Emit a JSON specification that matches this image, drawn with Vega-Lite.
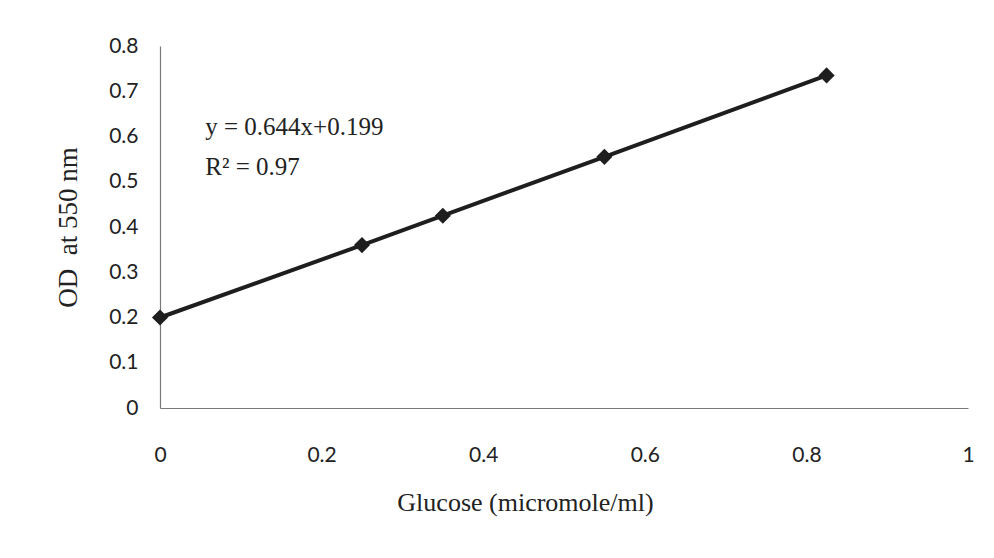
{
  "$schema": "https://vega.github.io/schema/vega-lite/v6.json",
  "autosize": {"type": "none"},
  "width": 808,
  "height": 362,
  "padding": {"left": 160, "top": 46, "right": 26, "bottom": 150},
  "background": "white",
  "config": {"view": {"stroke": null}},
  "datasets": {
    "pts": [
      {"glucose": 0, "od": 0.2},
      {"glucose": 0.25, "od": 0.36},
      {"glucose": 0.35, "od": 0.425},
      {"glucose": 0.55, "od": 0.555},
      {"glucose": 0.825, "od": 0.735}
    ],
    "eq": [
      {"glucose": 0.056, "od": 0.603, "label": "y = 0.644x+0.199"},
      {"glucose": 0.056, "od": 0.515, "label": "R² = 0.97"}
    ]
  },
  "layer": [
    {
      "data": {"name": "pts"},
      "mark": {"type": "line", "color": "#1e1e1e", "strokeWidth": 4},
      "encoding": {
        "x": {"field": "glucose", "type": "quantitative", "scale": {"domain": [0, 1]},
          "axis": {"values": [0, 0.2, 0.4, 0.6, 0.8, 1], "format": ".1~f", "grid": false, "ticks": false,
            "labelFlush": false,
            "domainColor": "#7a7a7a", "domainWidth": 1.2, "labelPadding": 36,
            "labelFont": "Lato", "labelFontSize": 21, "labelColor": "#222", "labelFontWeight": "normal",
            "title": "Glucose (micromole/ml)", "titleFont": "Liberation Serif", "titleFontSize": 26,
            "titleFontWeight": "normal", "titleColor": "#222", "titlePadding": 24, "titleX": 365}},
        "y": {"field": "od", "type": "quantitative", "scale": {"domain": [0, 0.8]},
          "axis": {"values": [0, 0.1, 0.2, 0.3, 0.4, 0.5, 0.6, 0.7, 0.8], "format": ".1~f", "grid": false, "ticks": false,
            "labelFlush": false,
            "domainColor": "#7a7a7a", "domainWidth": 1.2, "labelPadding": 22,
            "labelFont": "Lato", "labelFontSize": 21, "labelColor": "#222",
            "title": "OD\u00a0 at 550 nm", "titleFont": "Liberation Serif", "titleFontSize": 27,
            "titleFontWeight": "normal", "titleColor": "#222", "titlePadding": 26}}
      }
    },
    {
      "data": {"name": "pts"},
      "mark": {"type": "point", "shape": "diamond", "filled": true, "color": "#1e1e1e", "size": 260, "opacity": 1},
      "encoding": {
        "x": {"field": "glucose", "type": "quantitative"},
        "y": {"field": "od", "type": "quantitative"}
      }
    },
    {
      "data": {"name": "eq"},
      "mark": {"type": "text", "align": "left", "baseline": "alphabetic", "font": "Liberation Serif", "fontSize": 25, "color": "#222"},
      "encoding": {
        "x": {"field": "glucose", "type": "quantitative"},
        "y": {"field": "od", "type": "quantitative"},
        "text": {"field": "label"}
      }
    }
  ]
}
